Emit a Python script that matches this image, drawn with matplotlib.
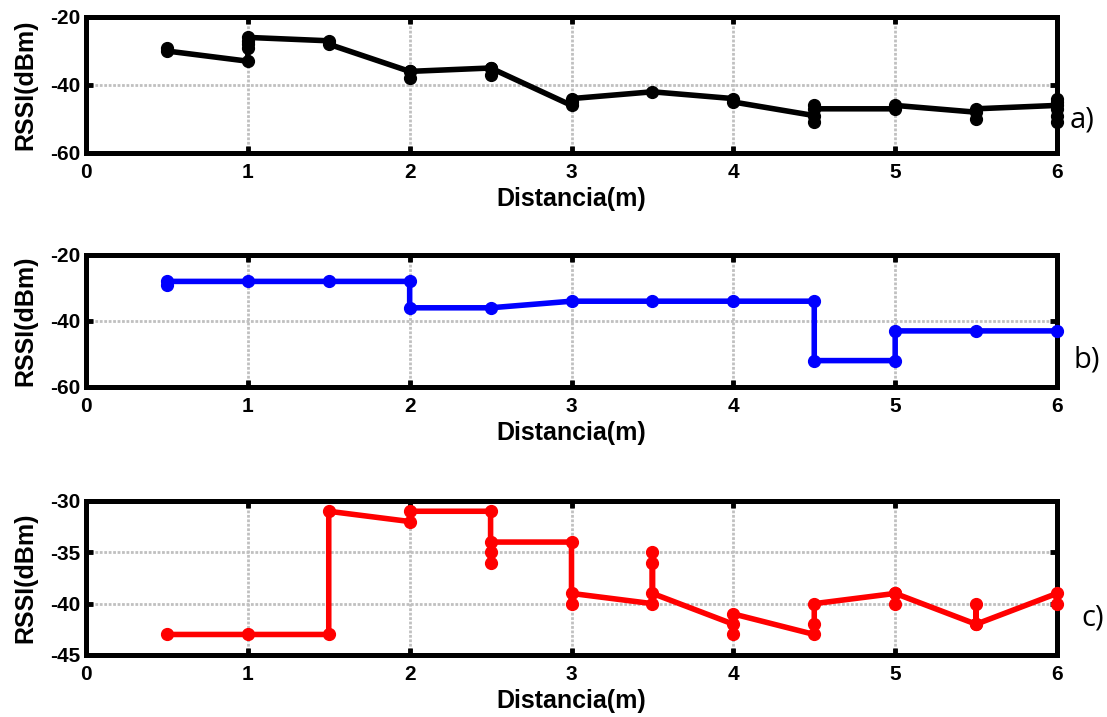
import matplotlib
matplotlib.use("Agg")
import matplotlib.pyplot as plt

plt.rcParams["axes.unicode_minus"] = False

# panel a) - black
dist_a = [0.5, 0.5, 1, 1, 1, 1, 1, 1.5, 1.5, 2, 2, 2, 2.5, 2.5, 2.5,
          3, 3, 3, 3.5, 4, 4, 4.5, 4.5, 4.5, 4.5, 5, 5, 5.5, 5.5, 5.5,
          6, 6, 6, 6, 6, 6]
rssi_a = [-29, -30, -33, -29, -28, -27, -26, -27, -28, -36, -38, -36, -35, -37, -35,
          -46, -45, -44, -42, -44, -45, -49, -51, -46, -47, -47, -46, -48, -50, -47,
          -46, -44, -45, -47, -49, -51]

# panel b) - blue
dist_b = [0.5, 0.5, 1, 1.5, 2, 2, 2.5, 3, 3.5, 4, 4.5, 4.5, 5, 5, 5.5, 6]
rssi_b = [-29, -28, -28, -28, -28, -36, -36, -34, -34, -34, -34, -52, -52, -43, -43, -43]

# panel c) - red
dist_c = [0.5, 1, 1.5, 1.5, 2, 2, 2.5, 2.5, 2.5, 2.5, 3, 3, 3,
          3.5, 3.5, 3.5, 3.5, 4, 4, 4, 4.5, 4.5, 4.5, 5, 5, 5,
          5.5, 5.5, 5.5, 6, 6]
rssi_c = [-43, -43, -43, -31, -32, -31, -31, -36, -35, -34, -34, -40, -39,
          -40, -35, -36, -39, -42, -43, -41, -43, -42, -40, -39, -40, -39,
          -42, -40, -42, -39, -40]

panels = [
    (dist_a, rssi_a, "black", (-60, -20), [-60, -40, -20], "a)", 153, 136, 1070, 120),
    (dist_b, rssi_b, "blue", (-60, -20), [-60, -40, -20], "b)", 387, 132, 1073, 360),
    (dist_c, rssi_c, "red", (-45, -30), [-45, -40, -35, -30], "c)", 655, 154, 1081, 618),
]

W, H = 1107, 717
fig = plt.figure(figsize=(W / 100, H / 100), dpi=100)
bold = dict(family="Liberation Sans", weight="bold")

for xs, ys, col, ylim, yticks, tag, bot, hgt, tx, ty in panels:
    ax = fig.add_axes([86 / W, 1 - bot / H, 971 / W, hgt / H])
    ax.plot(xs, ys, "-o", color=col, lw=4, ms=8.5, clip_on=False, zorder=3)
    ax.set_xlim(0, 6)
    ax.set_ylim(*ylim)
    ax.set_xticks(range(7))
    ax.set_yticks(yticks)
    ax.grid(True, color="#c0c0c0", ls=(0, (1, 0.6)), lw=2)
    ax.tick_params(direction="in", length=5, width=3.5, top=True, right=True,
                   labelsize=15, pad=7)
    ax.tick_params(axis="y", pad=4)
    for lab in ax.get_xticklabels() + ax.get_yticklabels():
        lab.set_fontfamily("Liberation Sans")
        lab.set_fontweight("bold")
    for sp in ax.spines.values():
        sp.set_linewidth(3.6)
    ax.set_xlabel("Distancia(m)", fontsize=18, labelpad=4, **bold)
    ax.set_ylabel("RSSI(dBm)", fontsize=18, labelpad=9, **bold)
    fig.text(tx / W, 1 - ty / H, tag, fontsize=21, family="Open Sans",
             va="center", ha="left")

fig.savefig("out.png", dpi=100)
